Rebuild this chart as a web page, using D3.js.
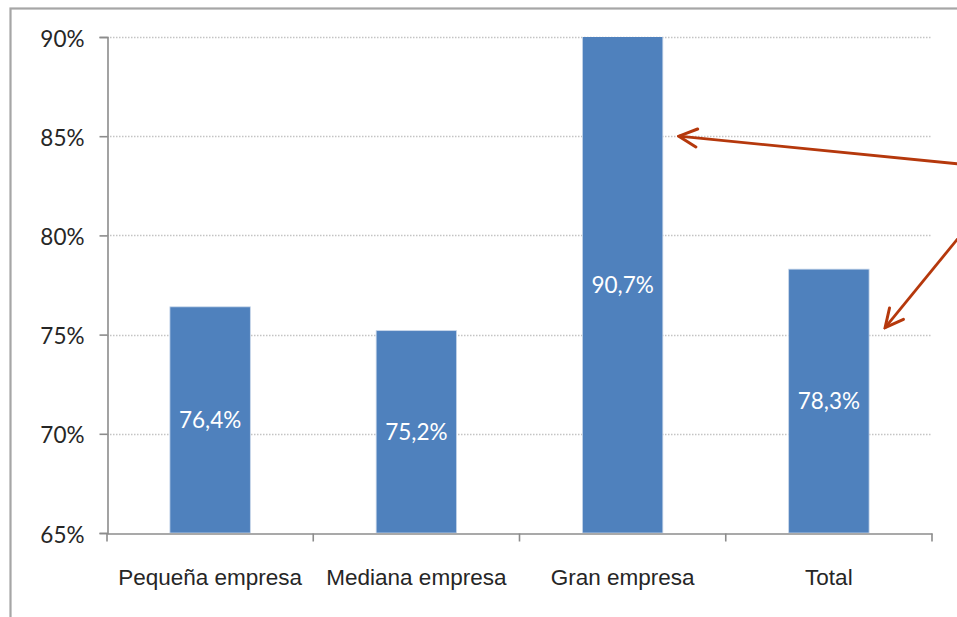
<!DOCTYPE html>
<html>
<head>
<meta charset="utf-8">
<script src="https://cdn.jsdelivr.net/npm/d3@7"></script>
<style>
  html, body { margin: 0; padding: 0; background: #fff; }
  svg { display: block; font-family: Lato, "Open Sans", sans-serif; }
</style>
</head>
<body>
<svg id="chart" width="957" height="617"></svg>
<script>
// Porcentaje por tamaño de empresa
const categories = ["Pequeña empresa", "Mediana empresa", "Gran empresa", "Total"];
const values = [76.4, 75.2, 90.7, 78.3];
const valueLabels = ["76,4%", "75,2%", "90,7%", "78,3%"];
const yTicks = [65, 70, 75, 80, 85, 90];
const yTickLabels = ["65%", "70%", "75%", "80%", "85%", "90%"];
// Where the red call-out arrows point (category, y value)
const arrowTargets = [["Gran empresa", 85], ["Total", 75.35]];

const svg = d3.select("#chart");
const W = 957, H = 617;
const plot = { left: 107, right: 932, top: 37, bottom: 533 };
const FS = 22.5;

// Outer chart frame (runs past the right and bottom edges)
svg.append("rect")
  .attr("x", 10.5).attr("y", 8.5)
  .attr("width", W + 20).attr("height", H + 20)
  .attr("fill", "none").attr("stroke", "#a6a6a6").attr("stroke-width", 2.2);

const x = d3.scaleBand().domain(categories).range([plot.left, plot.right]).paddingInner(0.61).paddingOuter(0.305);
const xb = d3.scaleBand().domain(categories).range([plot.left, plot.right]);
const y = d3.scaleLinear().domain([65, 90]).range([plot.bottom, plot.top]);

// Gridlines
svg.append("g").selectAll("line")
  .data(yTicks.filter(t => t > 65))
  .join("line")
  .attr("x1", plot.left).attr("x2", plot.right)
  .attr("y1", d => Math.round(y(d)) + 0.5).attr("y2", d => Math.round(y(d)) + 0.5)
  .attr("stroke", "#c4c4c4").attr("stroke-width", 1.3)
  .attr("stroke-dasharray", "1.5,1.5");

// Clip bars to the plot area (values above 90% are cut off)
svg.append("clipPath").attr("id", "plotClip")
  .append("rect")
  .attr("x", plot.left).attr("y", plot.top)
  .attr("width", plot.right - plot.left).attr("height", plot.bottom - plot.top);

const data = categories.map((c, i) => ({ c, v: values[i], label: valueLabels[i] }));

svg.append("g").attr("clip-path", "url(#plotClip)")
  .selectAll("rect")
  .data(data)
  .join("rect")
  .attr("x", d => x(d.c))
  .attr("width", x.bandwidth())
  .attr("y", d => y(d.v))
  .attr("height", d => y(65) - y(d.v))
  .attr("fill", "#4f81bd")
  .attr("stroke", "#c9d7ea").attr("stroke-width", 0.8);

// Value labels centred on the visible part of each bar
svg.append("g").selectAll("text")
  .data(data)
  .join("text")
  .attr("x", d => x(d.c) + x.bandwidth() / 2)
  .attr("y", d => (Math.max(y(d.v), plot.top) + plot.bottom) / 2)
  .attr("dy", "0.36em")
  .attr("text-anchor", "middle")
  .attr("fill", "#ffffff")
  .attr("font-size", FS)
  .text(d => d.label);

// Y axis
const yAxis = d3.axisLeft(y).tickValues(yTicks).tickFormat((d, i) => yTickLabels[i]).tickSize(8).tickPadding(15);
const gy = svg.append("g").attr("transform", `translate(${plot.left + 0.5},0)`).call(yAxis);
gy.select(".domain").attr("stroke", "#8c8c8c").attr("stroke-width", 1.6);
gy.selectAll(".tick line").attr("stroke", "#8c8c8c").attr("stroke-width", 1.6);
gy.selectAll(".tick text").attr("font-size", FS).attr("fill", "#262626")
  .attr("font-family", "Lato, sans-serif").attr("dy", "0.4em");

// X axis with ticks between categories
const xAxis = d3.axisBottom(xb).tickSize(0).tickPadding(0).tickFormat(() => "");
const gx = svg.append("g").attr("transform", `translate(0,${plot.bottom + 0.5})`).call(xAxis);
gx.select(".domain").attr("stroke", "#8c8c8c").attr("stroke-width", 1.6);
const bounds = categories.map(c => xb(c)).concat([plot.right]);
gx.selectAll(".sep").data(bounds).join("line").attr("class", "sep")
  .attr("x1", d => d).attr("x2", d => d)
  .attr("y1", 0).attr("y2", 8)
  .attr("stroke", "#8c8c8c").attr("stroke-width", 1.6);
gx.selectAll(".cat").data(categories).join("text").attr("class", "cat")
  .attr("x", d => xb(d) + xb.bandwidth() / 2)
  .attr("y", 51)
  .attr("text-anchor", "middle")
  .attr("font-size", FS).attr("fill", "#262626")
  .text(d => d);

// Call-out arrows
const RED = "#b5380c";
svg.append("defs").append("marker").attr("id", "arrowHead")
  .attr("viewBox", "0 0 22 22").attr("refX", 20).attr("refY", 11)
  .attr("markerWidth", 22).attr("markerHeight", 22).attr("markerUnits", "userSpaceOnUse")
  .attr("orient", "auto")
  .append("path").attr("d", "M2,2 L20,11 L2,20")
  .attr("fill", "none").attr("stroke", RED).attr("stroke-width", 3)
  .attr("stroke-linecap", "round").attr("stroke-linejoin", "miter");

const arrowStart = [{ x: 1000, y: 168 }, { x: 1000, y: 187 }];
const arrowEnds = arrowTargets.map(([c, v]) => ({ x: x(c) + x.bandwidth() + 16, y: y(v) }));
svg.append("g").selectAll("line")
  .data(arrowEnds)
  .join("line")
  .attr("x1", (d, i) => arrowStart[i].x).attr("y1", (d, i) => arrowStart[i].y)
  .attr("x2", d => d.x).attr("y2", d => d.y)
  .attr("stroke", RED).attr("stroke-width", 2.8)
  .attr("marker-end", "url(#arrowHead)");
</script>
</body>
</html>
